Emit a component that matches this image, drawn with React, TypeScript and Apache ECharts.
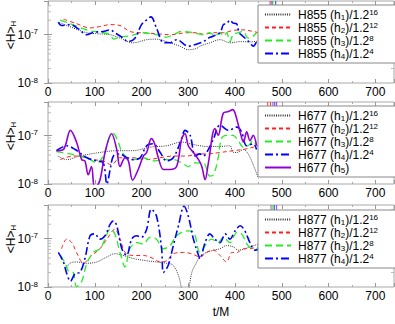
import React, { useEffect, useRef } from 'react';
import * as echarts from 'echarts';

const FONT = 'Liberation Sans, Arial, Helvetica, sans-serif';

// x axis
const X_MIN = 0;
const X_MAX = 740;
const X_INTERVAL = 100;
// y axis (log)
const Y_MIN = 1e-8;
const Y_MAX = 5e-7;
const Y_MINOR = [2e-8, 3e-8, 4e-8, 5e-8, 6e-8, 7e-8, 8e-8, 9e-8, 2e-7, 3e-7, 4e-7];

// ---------- Panel 1 : H855 ----------
const H855_h1: [number, number][] = [[25,1.78e-7],[54,1.38e-7],[83,1.10e-7],[104,1.05e-7],[133,1.0e-7],[154,8.5e-8],[182,6.8e-8],[211,7.9e-8],[232,8.1e-8],[261,6.8e-8],[282,5.8e-8],[300,4.9e-8],[318,5.2e-8],[325,5.8e-8],[346,6.8e-8],[368,7.9e-8],[389,6.8e-8],[411,7.2e-8],[432,7.1e-8],[450,7.4e-8]];
const H855_h2: [number, number][] = [[33,2.1e-7],[61,1.7e-7],[90,1.38e-7],[111,1.48e-7],[133,1.62e-7],[154,1.55e-7],[175,1.17e-7],[197,1.1e-7],[232,1.05e-7],[261,1.0e-7],[297,1.1e-7],[318,1.1e-7],[332,1.02e-7],[354,1.1e-7],[375,1.1e-7],[396,1.23e-7],[417,1.26e-7],[439,1.17e-7],[450,1.1e-7]];
const H855_h3: [number, number][] = [[26,2.0e-7],[47,1.7e-7],[76,1.32e-7],[97,1.17e-7],[118,1.1e-7],[133,1.0e-7],[140,8.1e-8],[154,8.9e-8],[175,9.5e-8],[204,1.1e-7],[232,1.0e-7],[254,8.9e-8],[268,1.0e-7],[286,1.17e-7],[311,1.1e-7],[332,1.0e-7],[346,1.1e-7],[357,9.5e-8],[368,1.1e-7],[375,9.5e-8],[382,1.1e-7],[389,7.2e-8],[396,1.0e-7],[407,1.1e-7],[417,1.17e-7],[428,8.5e-8],[436,8.9e-8],[446,1.1e-7]];
const H855_h4: [number, number][] = [[22,1.82e-7],[29,1.55e-7],[47,1.62e-7],[65,1.32e-7],[83,1.0e-7],[97,1.12e-7],[118,1.17e-7],[133,1.26e-7],[143,1.1e-7],[161,8.5e-8],[171,7.2e-8],[186,8.5e-8],[200,1.62e-7],[211,2.04e-7],[220,2.34e-7],[232,1.38e-7],[247,6.9e-8],[261,6.8e-8],[275,7.9e-8],[300,5.8e-8],[314,6.2e-8],[332,7.2e-8],[343,8.5e-8],[353,9.3e-8],[368,1.1e-7],[375,1.62e-7],[382,1.7e-7],[389,2.0e-7],[396,1.74e-7],[403,1.7e-7],[409,1.1e-7],[416,9.5e-8],[425,7.9e-8],[432,6.8e-8],[439,5.8e-8],[446,7.2e-8]];

// ---------- Panel 2 : H677 ----------
const H677_h1: [number, number][] = [[21,3.8e-8],[40,3.2e-8],[68,3.8e-8],[111,4.5e-8],[147,4.9e-8],[182,4.9e-8],[218,5.8e-8],[254,6.2e-8],[286,7.4e-8],[304,6.8e-8],[325,6.2e-8],[339,6.0e-8],[368,6.0e-8],[389,6.2e-8],[396,4.5e-8],[404,4.5e-8],[418,5.2e-8],[428,4.2e-8],[439,2.5e-8],[450,1.3e-8]];
const H677_h2: [number, number][] = [[26,3.2e-8],[54,3.8e-8],[76,3.7e-8],[97,3.2e-8],[118,3.0e-8],[136,2.5e-8],[154,3.5e-8],[182,3.5e-8],[211,3.2e-8],[240,3.5e-8],[268,3.8e-8],[297,3.8e-8],[322,4.2e-8],[339,4.2e-8],[368,4.5e-8],[396,4.9e-8],[418,5.2e-8],[439,5.8e-8],[450,6.2e-8]];
const H677_h3: [number, number][] = [[18,4.7e-8],[47,4.2e-8],[68,3.8e-8],[90,3.2e-8],[104,2.75e-8],[118,3.8e-8],[133,1.02e-7],[140,1.1e-7],[150,7.4e-8],[161,4.2e-8],[182,3.2e-8],[204,3.5e-8],[225,3.0e-8],[247,3.2e-8],[268,3.2e-8],[286,2.75e-8],[300,2.3e-8],[315,2.75e-8],[332,2.75e-8],[346,1.45e-8],[354,1.55e-8],[364,3.5e-8],[371,8.7e-8],[382,1.02e-7],[396,1.02e-7],[407,7.9e-8],[418,5.8e-8],[428,6.2e-8],[439,7.9e-8],[446,6.2e-8]];
const H677_h4: [number, number][] = [[18,4.9e-8],[40,6.2e-8],[58,5.2e-8],[83,3.5e-8],[104,3.0e-8],[118,2.75e-8],[126,1.0e-8],[133,2.0e-8],[140,3.8e-8],[154,4.2e-8],[168,3.5e-8],[182,3.2e-8],[197,3.5e-8],[211,6.2e-8],[225,6.8e-8],[240,4.5e-8],[254,3.0e-8],[268,3.5e-8],[286,8.7e-8],[293,1.29e-7],[304,1.02e-7],[315,3.8e-8],[325,4.2e-8],[332,3.8e-8],[343,5.2e-8],[354,8.7e-8],[368,1.66e-7],[386,1.29e-7],[404,1.51e-7],[414,1.2e-7],[425,6.2e-8],[439,6.8e-8],[446,5.2e-8]];
const H677_h5: [number, number][] = [[18,4.9e-8],[33,5.2e-8],[48,1.29e-7],[61,7.4e-8],[72,3.2e-8],[79,3.0e-8],[86,1.55e-8],[93,2.3e-8],[100,7.9e-9],[111,1.2e-8],[122,4.5e-8],[136,1.1e-7],[147,5.2e-8],[154,2.3e-8],[165,3.5e-8],[172,3.0e-8],[181,1.2e-8],[193,2.0e-8],[204,3.8e-8],[211,4.5e-8],[221,8.7e-8],[228,6.8e-8],[236,3.5e-8],[247,2.0e-8],[261,2.0e-8],[275,2.3e-8],[286,8.7e-8],[293,1.1e-7],[300,6.2e-8],[311,4.5e-8],[322,3.2e-8],[329,2.3e-8],[336,1.23e-8],[343,2.75e-8],[357,1.41e-7],[364,1.02e-7],[375,2.95e-7],[386,3.16e-7],[395,3.47e-7],[400,2.95e-7],[411,1.2e-7],[418,7.4e-8],[425,1.2e-7],[432,7.9e-8],[439,1.02e-7],[446,6.2e-8]];

// ---------- Panel 3 : H877 ----------
const H877_h1: [number, number][] = [[37,2.24e-8],[47,3.1e-8],[61,3.3e-8],[83,3.1e-8],[104,3.3e-8],[126,4.2e-8],[143,4.9e-8],[161,4.5e-8],[182,3.9e-8],[211,3.5e-8],[232,3.3e-8],[254,3.1e-8],[268,2.8e-8],[282,1.38e-8],[293,3e-9],[307,1.9e-8],[318,3.3e-8],[325,4.2e-8],[339,5.2e-8],[354,5.8e-8],[368,6.2e-8],[382,7.2e-8],[396,6.8e-8],[407,5.8e-8],[421,6.2e-8],[439,7.2e-8],[450,7.6e-8]];
const H877_h2: [number, number][] = [[29,6.2e-8],[40,9.8e-8],[51,8.3e-8],[61,5.2e-8],[76,3.1e-8],[90,4.2e-8],[111,6.2e-8],[126,9.8e-8],[143,1.58e-7],[154,9.8e-8],[165,5.2e-8],[182,4.5e-8],[204,4.5e-8],[225,3.9e-8],[240,3.3e-8],[254,3.5e-8],[268,4.9e-8],[290,5.2e-8],[307,4.9e-8],[325,4.2e-8],[339,5.2e-8],[354,5.8e-8],[368,4.5e-8],[382,3.3e-8],[393,5.2e-8],[404,5.2e-8],[418,6.2e-8],[432,6.2e-8],[446,6.8e-8]];
const H877_h3: [number, number][] = [[26,4.5e-8],[37,3.1e-8],[44,2.1e-8],[54,2.0e-8],[61,1.02e-8],[72,1.3e-8],[83,3.1e-8],[97,5.2e-8],[111,6.2e-8],[122,9.8e-8],[133,1.58e-7],[143,1.26e-7],[154,5.2e-8],[165,2.6e-8],[175,6.2e-8],[190,8.3e-8],[204,7.8e-8],[218,1.07e-7],[232,9.8e-8],[247,6.2e-8],[261,7.2e-8],[275,1.15e-7],[297,1.45e-7],[311,1.38e-7],[325,5.2e-8],[336,7.2e-8],[350,9.8e-8],[364,8.3e-8],[375,1.07e-7],[389,8.3e-8],[404,1.35e-7],[414,1.26e-7],[428,7.2e-8],[443,5.8e-8],[450,6.8e-8]];
const H877_h4: [number, number][] = [[22,5.2e-8],[33,3.3e-8],[40,1.9e-8],[48,1.32e-8],[58,1.9e-8],[68,2.0e-8],[79,3.9e-8],[90,1.15e-7],[100,1.26e-7],[111,9.8e-8],[122,1.15e-7],[133,2.0e-7],[140,2.34e-7],[147,1.86e-7],[158,6.2e-8],[168,4.5e-8],[179,9.8e-8],[190,1.15e-7],[200,1.07e-7],[211,1.58e-7],[221,4.1e-7],[232,2.95e-7],[243,6.2e-8],[247,2.0e-8],[257,2.8e-8],[268,7.2e-8],[279,1.86e-7],[291,4.7e-7],[300,2.95e-7],[311,9.8e-8],[322,4.5e-8],[325,3.9e-8],[336,8.3e-8],[346,1.26e-7],[357,9.8e-8],[368,8.3e-8],[379,1.26e-7],[389,9.8e-8],[400,1.45e-7],[411,1.86e-7],[421,1.45e-7],[432,8.3e-8],[443,5.8e-8],[450,6.0e-8]];

// colored markers at top of each panel (t values)
const MARK_T_1 = [475, 479, 481, 487];
const MARK_C_1 = ['#ff0000', '#0000ff', '#00dd00', '#0000ff'];
const MARK_T_2 = [470, 476, 481, 485, 489];
const MARK_C_2 = ['#ff0000', '#ff0000', '#9400d3', '#0000ff', '#9400d3'];
const MARK_T_3 = [477, 481, 484, 489];
const MARK_C_3 = ['#555555', '#00dd00', '#0000ff', '#9400d3'];

const STYLE: Record<string, { color: string; width: number; type: any }> = {
  h1: { color: '#333333', width: 1, type: [1, 1.2] },
  h2: { color: '#ff2020', width: 1, type: [4, 3] },
  h3: { color: '#22ee22', width: 1.3, type: [7, 4] },
  h4: { color: '#0000ff', width: 1.6, type: [8, 3, 2, 3] },
  h5: { color: '#9400d3', width: 1.6, type: 'solid' },
};

const SUFFIX: Record<string, string> = {
  h1: '/1.2{sup|16}',
  h2: '/1.2{sup|12}',
  h3: '/1.2{sup|8}',
  h4: '/1.2{sup|4}',
  h5: '',
};
const PLAIN_SUFFIX: Record<string, string> = {
  h1: '/1.2^16', h2: '/1.2^12', h3: '/1.2^8', h4: '/1.2^4', h5: '',
};

const PANELS = [
  { label: 'H855', curves: { h1: H855_h1, h2: H855_h2, h3: H855_h3, h4: H855_h4 } as Record<string, [number, number][]>, markT: MARK_T_1, markC: MARK_C_1 },
  { label: 'H677', curves: { h1: H677_h1, h2: H677_h2, h3: H677_h3, h4: H677_h4, h5: H677_h5 } as Record<string, [number, number][]>, markT: MARK_T_2, markC: MARK_C_2 },
  { label: 'H877', curves: { h1: H877_h1, h2: H877_h2, h3: H877_h3, h4: H877_h4 } as Record<string, [number, number][]>, markT: MARK_T_3, markC: MARK_C_3 },
];

const GRID_TOPS = [1, 102, 205];
const GRID_H = 82;
const GRID_LEFT = 48;
const GRID_W = 346;
const LEGEND_TOPS = [5, 106, 210];

export default function App() {
  const ref = useRef<HTMLDivElement>(null);
  useEffect(() => {
    if (!ref.current) return;
    const chart = echarts.init(ref.current, undefined, { renderer: 'svg' });

    const grids: any[] = [];
    const xAxes: any[] = [];
    const yAxes: any[] = [];
    const series: any[] = [];
    const legends: any[] = [];
    const graphics: any[] = [];
    const richMap: Record<string, string> = {};

    const yFmt = (v: number) => {
      const e = Math.log10(v);
      if (Math.abs(e - Math.round(e)) > 0.01) return '';
      return '{b|10}{s|' + Math.round(e) + '}';
    };

    PANELS.forEach((p, i) => {
      grids.push({
        left: GRID_LEFT, top: GRID_TOPS[i], width: GRID_W, height: GRID_H,
        show: true, borderColor: '#a8a8a8', borderWidth: 1, backgroundColor: 'transparent',
      });
      xAxes.push({
        type: 'value', gridIndex: i, min: X_MIN, max: X_MAX, interval: X_INTERVAL,
        position: 'bottom',
        axisLine: { show: false },
        axisTick: { show: true, inside: true, length: 4, lineStyle: { color: '#999' } },
        minorTick: { show: true, splitNumber: 2, length: 2, lineStyle: { color: '#aaa' } },
        splitLine: { show: false },
        axisLabel: { show: true, showMaxLabel: false, color: '#000', fontFamily: FONT, fontSize: 12, margin: 3 },
        name: i === 2 ? 't/M' : '', nameLocation: 'middle', nameGap: 19,
        nameTextStyle: { color: '#000', fontFamily: FONT, fontSize: 12 },
      });
      yAxes.push({
        type: 'log', logBase: 10, gridIndex: i, min: Y_MIN, max: Y_MAX,
        position: 'left',
        axisLine: { show: false },
        axisTick: { show: true, inside: true, length: 4, lineStyle: { color: '#999' } },
        splitLine: { show: false },
        axisLabel: {
          show: true, showMaxLabel: false, margin: 10, formatter: yFmt,
          rich: {
            b: { fontFamily: FONT, fontSize: 12, color: '#000', lineHeight: 14 },
            s: { fontFamily: FONT, fontSize: 8, color: '#000', verticalAlign: 'top', lineHeight: 8 },
          },
        },
      });
    });
    PANELS.forEach((p, i) => {
      xAxes.push({
        type: 'value', gridIndex: i, min: X_MIN, max: X_MAX, interval: X_INTERVAL, position: 'top',
        axisLine: { show: false },
        axisTick: { show: true, inside: true, length: 4, lineStyle: { color: '#999' } },
        minorTick: { show: true, splitNumber: 2, length: 2, lineStyle: { color: '#aaa' } },
        splitLine: { show: false }, axisLabel: { show: false },
      });
      yAxes.push({
        type: 'log', logBase: 10, gridIndex: i, min: Y_MIN, max: Y_MAX, position: 'right',
        axisLine: { show: false },
        axisTick: { show: true, inside: true, length: 4, lineStyle: { color: '#999' } },
        splitLine: { show: false }, axisLabel: { show: false },
      });
    });

    PANELS.forEach((p, i) => {
      const names: string[] = [];
      Object.keys(p.curves).forEach((k) => {
        const idx = k.slice(1);
        const name = p.label + ' (h' + idx + ')' + PLAIN_SUFFIX[k];
        richMap[name] = p.label + ' (h{sub|' + idx + '})' + SUFFIX[k];
        names.push(name);
        const st = STYLE[k];
        series.push({
          type: 'line', name, xAxisIndex: i, yAxisIndex: i,
          data: p.curves[k], showSymbol: false, symbol: 'none', smooth: 0.35,
          lineStyle: { color: st.color, width: st.width, type: st.type },
          itemStyle: { color: st.color },
          z: k === 'h5' ? 4 : 3, clip: true,
        });
      });
      series.push({
        type: 'scatter', xAxisIndex: i, yAxisIndex: i, silent: true,
        data: Y_MINOR.map((v) => [X_MIN, v]), symbol: 'rect', symbolSize: [3, 1], symbolOffset: [1.5, 0],
        itemStyle: { color: '#aaa' }, z: 1,
      });
      series.push({
        type: 'scatter', xAxisIndex: i, yAxisIndex: i, silent: true,
        data: Y_MINOR.map((v) => [X_MAX, v]), symbol: 'rect', symbolSize: [3, 1], symbolOffset: [-1.5, 0],
        itemStyle: { color: '#aaa' }, z: 1,
      });
      series.push({
        type: 'scatter', xAxisIndex: i, yAxisIndex: i, silent: true,
        data: p.markT.map((t, j) => ({ value: [t, Y_MAX], itemStyle: { color: p.markC[j] } })),
        symbol: 'rect', symbolSize: [1, 5], symbolOffset: [0, 2.5], z: 1,
      });
      legends.push({
        data: names, orient: 'vertical', left: 258, top: LEGEND_TOPS[i],
        itemWidth: 26, itemHeight: 10, itemGap: 0, padding: [3, 26, 3, 6],
        backgroundColor: '#fff', borderColor: '#888', borderWidth: 1, borderRadius: 0,
        selectedMode: false, z: 10,
        itemStyle: { color: 'rgba(0,0,0,0)', borderColor: 'rgba(0,0,0,0)', borderWidth: 0, opacity: 0 },
        formatter: (n: string) => richMap[n] || n,
        textStyle: {
          fontFamily: FONT, fontSize: 12, color: '#000', lineHeight: 13, padding: [0, 0, 0, 2],
          rich: {
            sub: { fontFamily: FONT, fontSize: 8, color: '#000', verticalAlign: 'bottom', lineHeight: 8 },
            sup: { fontFamily: FONT, fontSize: 8, color: '#000', verticalAlign: 'top', lineHeight: 8 },
          },
        },
      });
      graphics.push({
        type: 'text', x: 11, y: GRID_TOPS[i] + GRID_H - 48, rotation: Math.PI / 2,
        style: {
          text: '<H>{s|H}', fontFamily: FONT, fontSize: 12, fill: '#000',
          align: 'center', verticalAlign: 'middle', textAlign: 'center', textVerticalAlign: 'middle',
          rich: { s: { fontFamily: FONT, fontSize: 8, fill: '#000', verticalAlign: 'bottom', lineHeight: 8 } },
        },
      });
    });

    chart.setOption({
      animation: false,
      backgroundColor: '#fff',
      grid: grids,
      xAxis: xAxes,
      yAxis: yAxes,
      legend: legends,
      series,
      graphic: graphics,
    });
    return () => chart.dispose();
  }, []);
  return <div ref={ref} style={{ position: 'fixed', left: 0, top: 0, width: 395, height: 324 }} />;
}
